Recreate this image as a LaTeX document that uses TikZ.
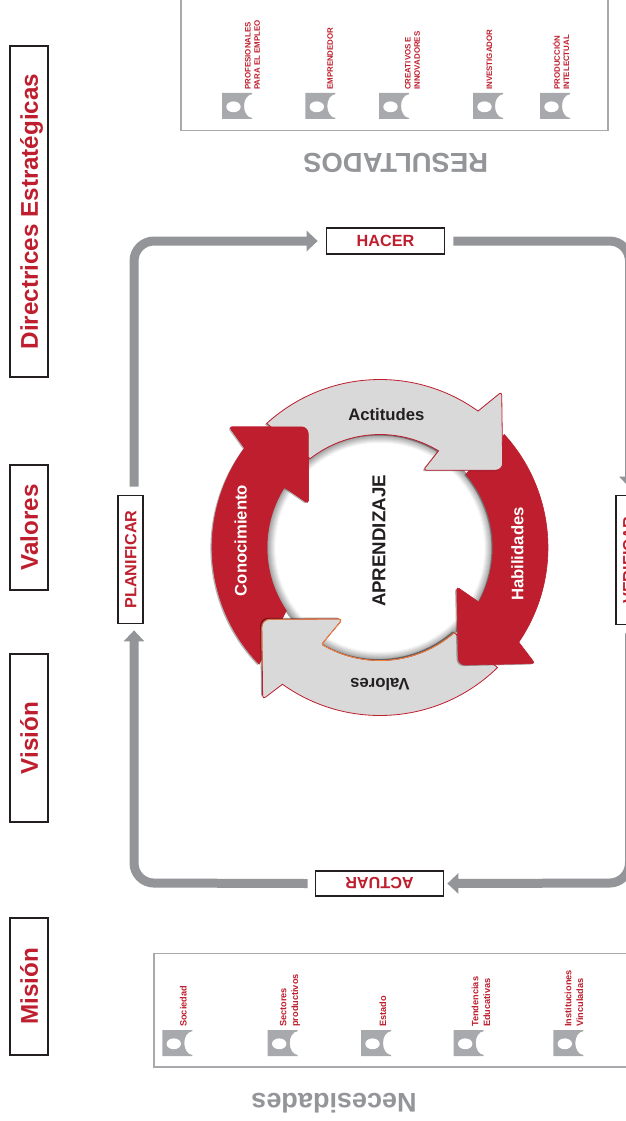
\documentclass[tikz,border=0pt]{standalone}
\usepackage{fontspec}
\setmainfont{Liberation Sans}
\usetikzlibrary{arrows.meta,shadows}
\definecolor{rd}{HTML}{BE1E2D}
\definecolor{lgr}{HTML}{D9D9DA}
\definecolor{mgr}{HTML}{939598}
\definecolor{fgr}{HTML}{A7A9AC}
\definecolor{dk}{HTML}{231F20}
\definecolor{org}{HTML}{E8853A}
\newcommand{\fsz}[1]{\fontsize{#1pt}{#1pt}\selectfont\bfseries}
\tikzset{
  x=1pt,y=-1pt,
  redbox/.style={draw=dk,line width=2.2pt,fill=white,inner sep=0pt,text=rd},
  sidebox/.style={redbox,minimum height=38pt,text height=17.5pt,text depth=0pt,font=\fsz{24.2}},
  actbox/.style={redbox,minimum height=25.5pt,line width=1.7pt,text height=11.6pt,text depth=0pt,font=\fsz{16.2}},
  panel/.style={draw=fgr,line width=1.3pt},
  title/.style={text=mgr,rotate=180,inner sep=0pt},
  small/.style={text=rd,rotate=90,anchor=west,inner sep=0pt,align=left},
  smalltop/.style={small,font=\fsz{7.9},text depth=0pt},
  smallbot/.style={small,font=\fsz{9.2},text depth=0pt},
  ring/.style={inner sep=0pt,font=\fsz{16.7}},
  loopline/.style={draw=mgr,line width=9pt},
  loophead/.style={-{Triangle[width=20pt,length=11pt]}},
  shad/.style={drop shadow={shadow xshift=-1.6pt,shadow yshift=-1pt,opacity=.3,fill=black}},
  shadup/.style={drop shadow={shadow xshift=-1.6pt,shadow yshift=1.4pt,opacity=.4,fill=black}},
  ico/.pic={
    \fill[fgr] (0,0) -- (30,0) -- (30,1.2) .. controls (25,1.6) and (22,7) .. (22,13)
      .. controls (22,19) and (25,24.6) .. (30,25) -- (30,26) -- (0,26) -- cycle;
    \fill[white] (11.5,13.8) ellipse [x radius=7.2pt,y radius=5.4pt];
  }
}
\begin{document}
\begin{tikzpicture}
\clip (0,0) rectangle (626,1121);
\useasboundingbox (0,0) rectangle (626,1121);
\fill[white] (0,0) rectangle (626,1121);

% side boxes
\node[sidebox,rotate=90,minimum width=331pt] (dir) at (29,211.5) {Directrices Estratégicas};
\node[sidebox,rotate=90,minimum width=125pt] (val) at (29,527.5) {Valores};
\node[sidebox,rotate=90,minimum width=168pt] (vis) at (29,738) {Visión};
\node[sidebox,rotate=90,minimum width=137pt] (mis) at (29,986.5) {Misión};

% process boxes
\node[actbox,minimum width=118pt] (hacer) at (385.5,241) {HACER};
\node[actbox,rotate=90,minimum width=128pt] (plan) at (130.5,559.5) {PLANIFICAR};
\node[actbox,rotate=180,minimum width=128pt] (act) at (379.5,883.5) {ACTUAR};
\node[actbox,rotate=90,minimum width=129pt] (ver) at (628.5,560) {VERIFICAR};

% loop corners
\coordinate (ctl) at (134,241);
\coordinate (ctr) at (629.5,241);
\coordinate (cbr) at (629.5,883);
\coordinate (cbl) at (134,883);
\draw[loopline,loophead,rounded corners=20pt] ([shift={(3.5,-8)}]plan.east) -- (ctl) -- ([xshift=-8pt]hacer.west);
\draw[loopline,loophead,rounded corners=20pt] ([xshift=8pt]hacer.east) -- (ctr) -- ([shift={(1,-7)}]ver.east);
\draw[loopline,loophead,rounded corners=20pt] ([shift={(1,8)}]ver.west) -- (cbr) -- ([xshift=3pt]act.west);
\draw[loopline,loophead,rounded corners=20pt] ([xshift=-7pt]act.east) -- (cbl) -- ([shift={(3.5,6)}]plan.west);

% panels
\draw[panel] (181,-2) rectangle (608,130.7);
\draw[panel] (154,953.3) rectangle (640,1067);
\node[title,font=\fsz{27.4}] (res) at (395.7,163.3) {RESULTADOS};
\node[title,font=\fsz{27}] (nec) at (334,1103) {Necesidades};

% icons
\foreach \x in {222,305.3,379,473,540} \pic at (\x,93) {ico};
\foreach \x in {162.3,267.7,361,453.7,553.3} \pic at (\x,1030) {ico};

% top labels
\node[smalltop] (t1) at (252.5,90) {PROFESIONALES\\[1.4pt]PARA EL EMPLEO};
\node[smalltop] (t2) at (330,90) {EMPRENDEDOR};
\node[smalltop] (t3) at (412.5,90) {CREATIVOS E\\[1.4pt]INNOVADORES};
\node[smalltop] (t4) at (489.3,90) {INVESTIGADOR};
\node[smalltop] (t5) at (561,90) {PRODUCCIÓN\\[1.4pt]INTELECTUAL};
% bottom labels
\node[smallbot] (b1) at (183.3,1027) {Sociedad};
\node[smallbot] (b2) at (289,1027) {Sectores\\[2.5pt]productivos};
\node[smallbot] (b3) at (382.7,1027) {Estado};
\node[smallbot] (b4) at (481,1027) {Tendencias\\[2.5pt]Educativas};
\node[smallbot] (b5) at (574,1027) {Instituciones\\[2.5pt]Vinculadas};

% ring
\begin{scope}[shift={(380,547.5)},x=1pt,y=1pt]
  \foreach \i in {0,...,9} {
    \pgfmathsetmacro{\k}{max(0,42-4.5*\i)}
    \fill[black!\k!white] (0,0) circle [radius=114-\i];
  }
  \fill[white] (0,0) circle [radius=104];
  \def\ro{168}\def\ri{113}
  % red left
  \path[fill=rd,draw=rd,line width=.6pt,shad] (224:\ro) arc[start angle=224,end angle=143.7,radius=\ro]
     [rounded corners=3pt] -- (-150.7,120.7) [rounded corners=7pt] -- (-71.7,120.7) [rounded corners=3pt] -- (-71.7,44) [sharp corners] -- (147.7:\ri)
     arc[start angle=147.7,end angle=214,radius=\ri] -- cycle;
  % gray bottom
  \path[fill=lgr,draw=rd,line width=.8pt,shadup] (314.4:\ro) arc[start angle=314.4,end angle=234.5,radius=\ro]
     [rounded corners=3.5pt] -- (-117.3,-151.8) [rounded corners=8pt] -- (-118.3,-71.8) [rounded corners=4pt] -- (-37.3,-71.5) [rounded corners=1pt] -- (-58.3,-96.8) [sharp corners] -- (239.2:\ri)
     arc[start angle=239.2,end angle=311,radius=\ri] -- cycle;
  % orange rim of the gray bottom arrow
  \draw[org,line width=.8pt,rounded corners=8pt] (-118,-119) -- (-118.3,-71.8) [rounded corners=4pt] -- (-37.3,-71.5) [rounded corners=1pt] -- (-58.3,-96.8) [sharp corners] -- (239.2:\ri)
     arc[start angle=239.2,end angle=311,radius=\ri];
  % red right
  \path[fill=rd,draw=rd,line width=.6pt,shad] (42.3:\ro) arc[start angle=42.3,end angle=-34.3,radius=\ro]
     [rounded corners=3pt] -- (155,-116) [rounded corners=7pt] -- (78.3,-117.7) [rounded corners=3pt] -- (76.7,-39.3) [sharp corners] -- (-28.9:\ri)
     arc[start angle=-28.9,end angle=40.5,radius=\ri] -- cycle;
  % gray top
  \path[fill=lgr,draw=rd,line width=.8pt,shad] (132.4:\ro) arc[start angle=132.4,end angle=54.3,radius=\ro]
     [rounded corners=3pt] -- (121.7,155.7) [rounded corners=7pt] -- (122.7,77.3) [rounded corners=3pt] -- (43.3,77.3) [sharp corners] -- (58.8:\ri)
     arc[start angle=58.8,end angle=128.2,radius=\ri] -- cycle;
  % red left head again, over the gray tail
  \path[fill=rd,draw=rd,line width=.6pt] (143.7:\ro)
     [rounded corners=3pt] -- (-150.7,120.7) [rounded corners=7pt] -- (-71.7,120.7) [rounded corners=3pt] -- (-71.7,44) [sharp corners] -- (147.7:\ri) -- cycle;
\end{scope}
\node[ring,text=dk] (acti) at (386.3,414.3) {Actitudes};
\node[ring,text=dk,rotate=180] (valo) at (380,684.3) {Valores};
\node[ring,text=white,rotate=90] (cono) at (240.7,540.5) {Conocimiento};
\node[ring,text=white,rotate=90] (habi) at (517.3,554) {Habilidades};
\node[inner sep=0pt,text=dk,rotate=90,font=\fsz{18.7}] (apr) at (379,541) {APRENDIZAJE};
\end{tikzpicture}
\end{document}
